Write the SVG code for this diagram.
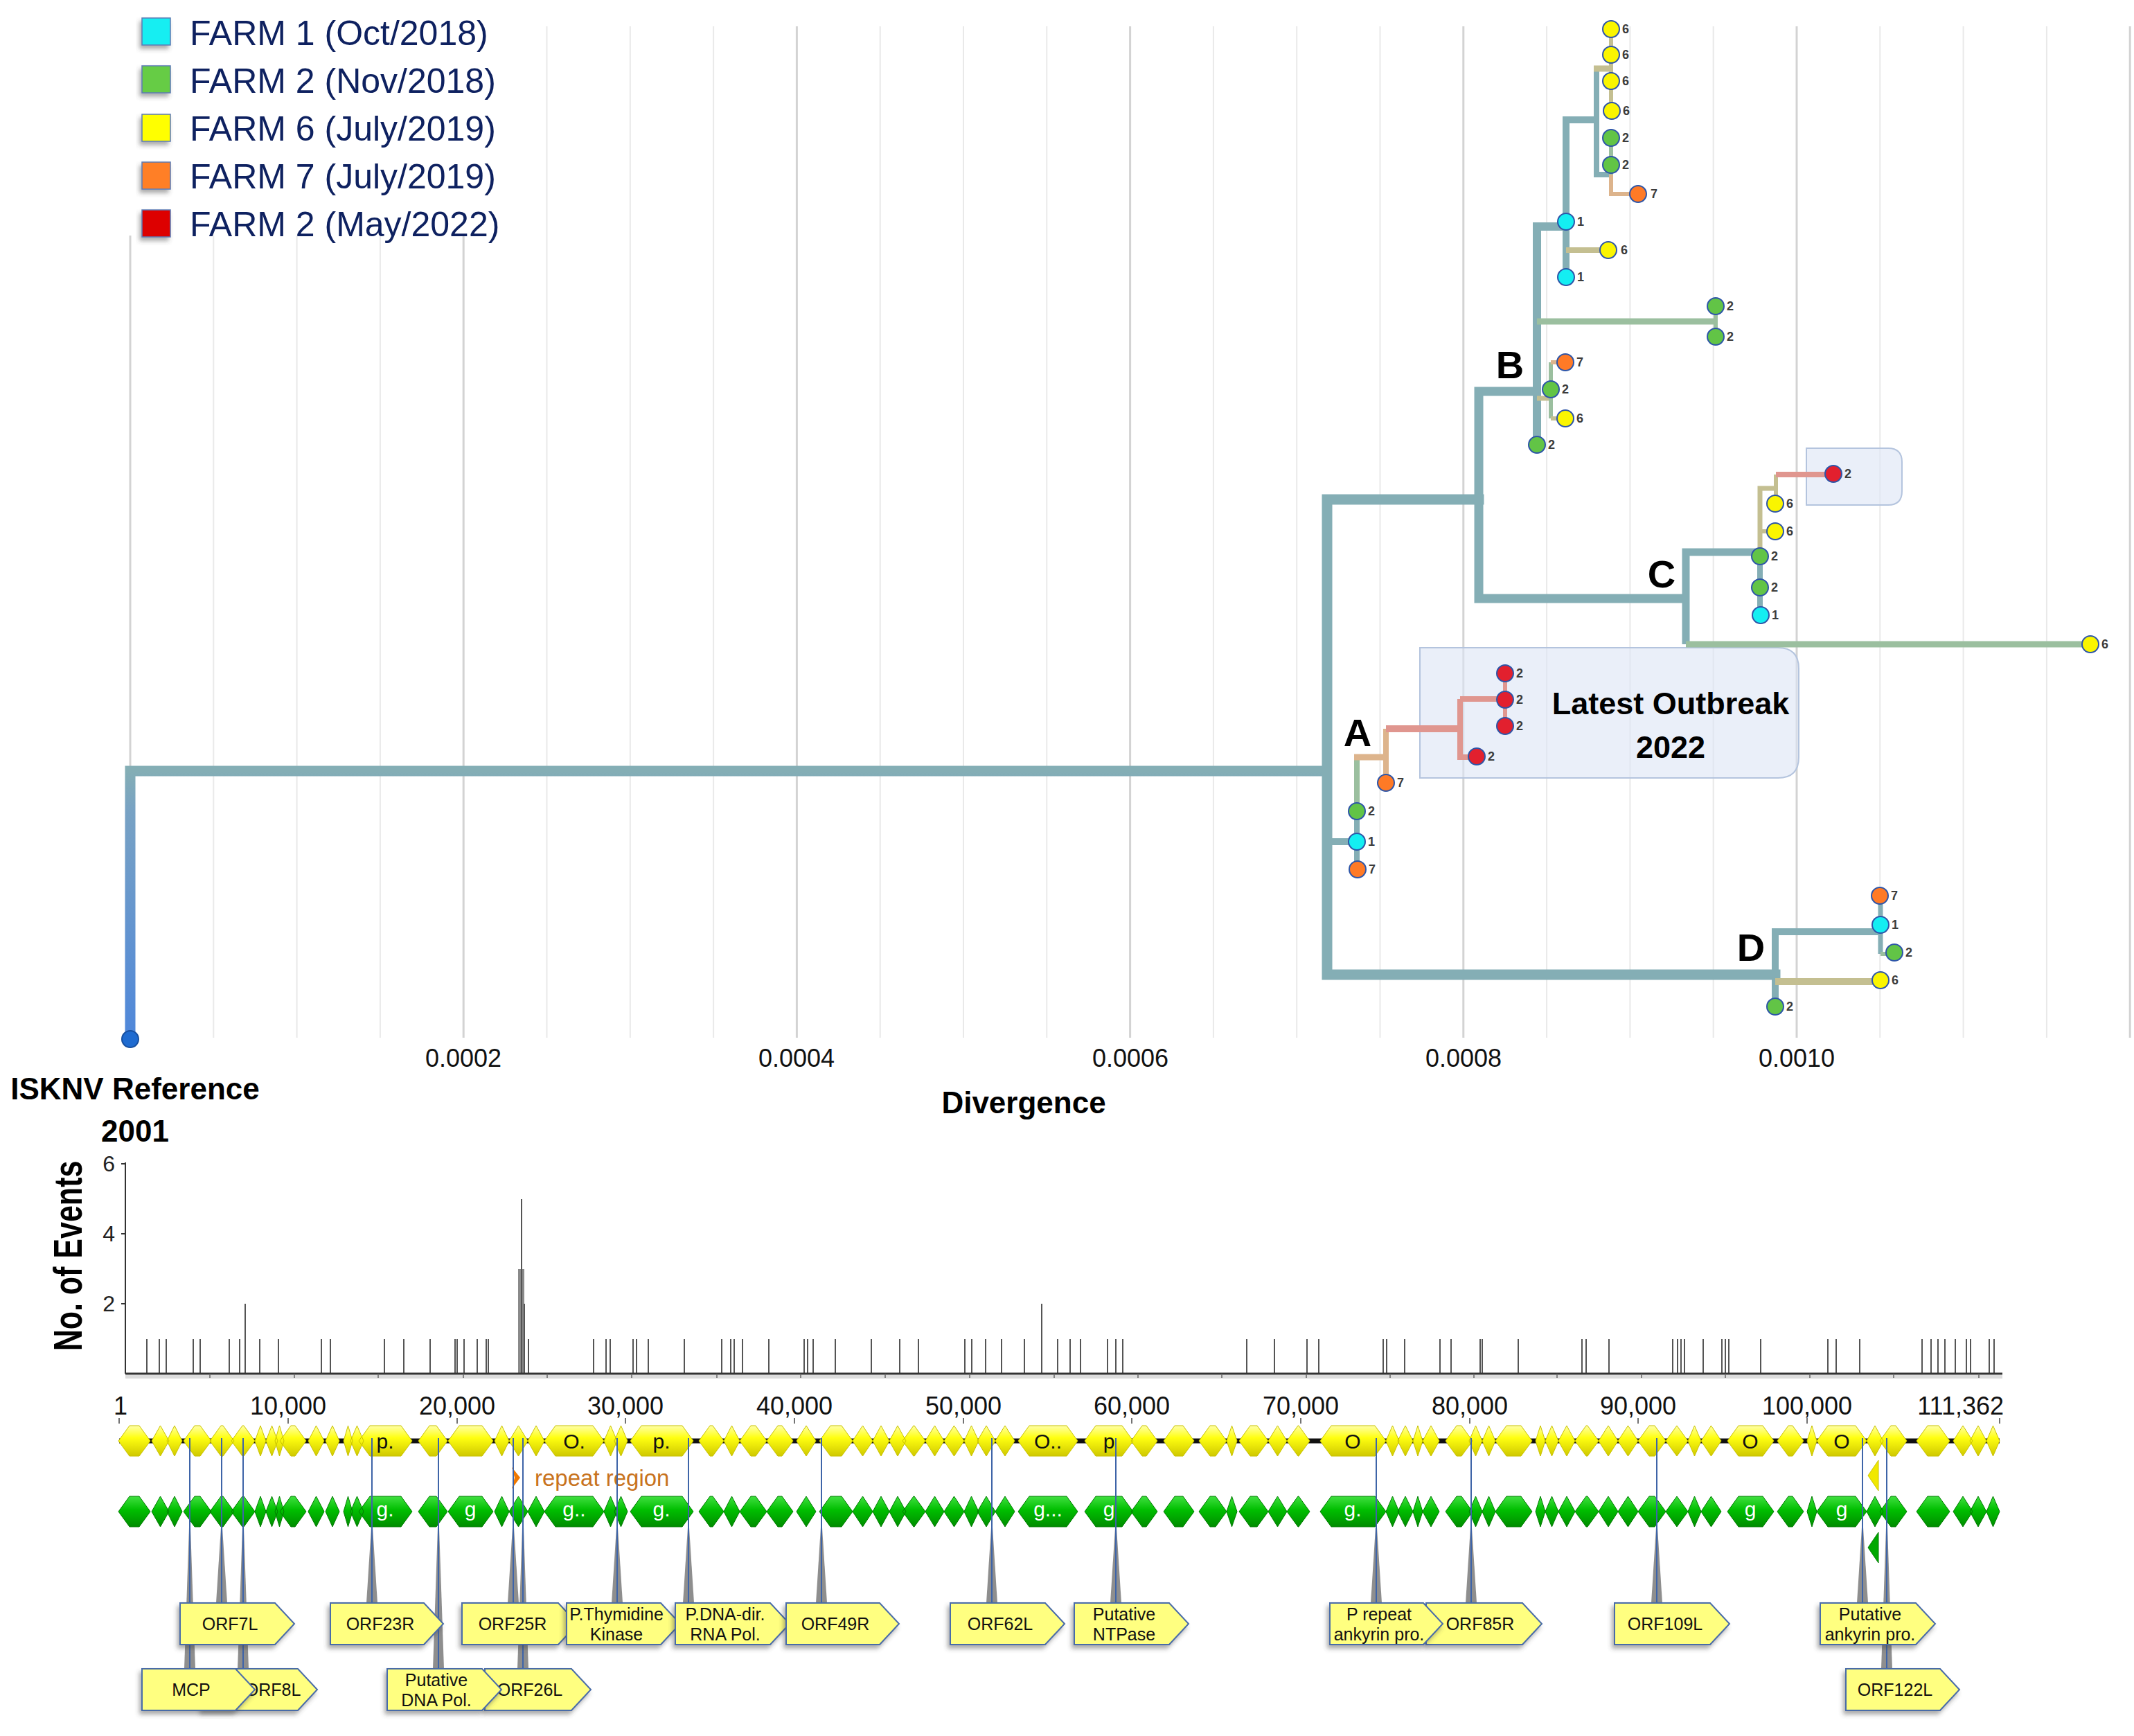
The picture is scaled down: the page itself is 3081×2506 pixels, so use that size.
<svg xmlns="http://www.w3.org/2000/svg" width="3081" height="2506" viewBox="0 0 3081 2506">
<defs>
<style>
text{font-family:'Liberation Sans',Arial,sans-serif}
.nar{font-family:'Liberation Sans Narrow','Liberation Sans',Arial,sans-serif}
.gl{stroke:#E9E9E9;stroke-width:2}
.gm{stroke:#D3D3D3;stroke-width:3}
.leg{font-size:50px;fill:#0E2160}
.sq{stroke:#5C7BB5;stroke-width:1.5;filter:url(#sh)}
.cn path{fill:none}
.tl{stroke:#84AEB5}
.ty{stroke:#C4BF91}
.to{stroke:#DDB48C}
.tg{stroke:#9BBF9F}
.tr{stroke:#E0968F}
.node circle{stroke:#2D55A8;stroke-width:2}
.node text{font-size:18px;font-weight:bold;fill:#3C3C3C}
.cY{fill:#FAF500}.cG{fill:#62C446}.cC{fill:#14EEF2}.cO{fill:#FF7A26}.cR{fill:#E2202E}
.clade{font-size:56px;font-weight:bold;fill:#000;text-anchor:middle}
.ax{font-size:36px;fill:#111;text-anchor:middle}
.ttl{font-size:44px;font-weight:bold;fill:#000;text-anchor:middle}
.hl{fill:#DCE5F5;fill-opacity:0.6;stroke:#B4C4DE;stroke-width:2}
.pins line{stroke:#3E64A8;stroke-width:2}
.pins path{fill:#8E8E8E}
.box polygon{fill:#FFFF80;stroke:#4A6CA8;stroke-width:2;filter:url(#sh)}
.box text{font-size:25px;fill:#111;text-anchor:middle}
.gy{font-size:30px;fill:#111;text-anchor:middle}
.gw{font-size:30px;fill:#FFFFFF;text-anchor:middle}
</style>
<filter id="sh" x="-20%" y="-20%" width="140%" height="170%">
<feDropShadow dx="-3" dy="5" stdDeviation="3" flood-color="#444" flood-opacity="0.45"/>
</filter>
<linearGradient id="rootg" gradientUnits="userSpaceOnUse" x1="0" y1="1113" x2="0" y2="1500">
<stop offset="0" stop-color="#84AEB5"/><stop offset="0.15" stop-color="#78A2C4"/><stop offset="1" stop-color="#4F87DA"/>
</linearGradient>
<linearGradient id="yg" x1="0" y1="0" x2="0" y2="1">
<stop offset="0" stop-color="#FFFFA8"/><stop offset="0.4" stop-color="#FFFF10"/><stop offset="1" stop-color="#CFC800"/>
</linearGradient>
<linearGradient id="gg" x1="0" y1="0" x2="0" y2="1">
<stop offset="0" stop-color="#40E040"/><stop offset="0.45" stop-color="#00BE00"/><stop offset="1" stop-color="#008C00"/>
</linearGradient>
<path id="genes" d="M171,2080l16,-22h14l16,22l-16,22h-14z M219,2080l12.5,-22l12.5,22l-12.5,22z M241,2080l11,-22l11,22l-11,22z M265,2080l16,-22h8l16,22l-16,22h-8z M303,2080l16,-22h3l16,22l-16,22h-3z M334,2080l16,-22h2l16,22l-16,22h-2z M368,2080l8,-22l8,22l-8,22z M384,2080l8.5,-22l8.5,22l-8.5,22z M397,2080l6.5,-22l6.5,22l-6.5,22z M404,2080l16,-22h6l16,22l-16,22h-6z M445,2080l11.5,-22l11.5,22l-11.5,22z M470,2080l10,-22l10,22l-10,22z M496,2080l6.5,-22l6.5,22l-6.5,22z M506,2080l9.5,-22l9.5,22l-9.5,22z M518,2080l16,-22h45l16,22l-16,22h-45z M604,2080l16,-22h10l16,22l-16,22h-10z M647,2080l16,-22h33l16,22l-16,22h-33z M714,2080l10.5,-22l10.5,22l-10.5,22z M735,2080l13.5,-22l13.5,22l-13.5,22z M762,2080l12,-22l12,22l-12,22z M786,2080l16,-22h54l16,22l-16,22h-54z M872,2080l9.5,-22l9.5,22l-9.5,22z M887,2080l9.5,-22l9.5,22l-9.5,22z M910,2080l16,-22h59l16,22l-16,22h-59z M1009,2080l16,-22h4l16,22l-16,22h-4z M1045,2080l11.5,-22l11.5,22l-11.5,22z M1068,2080l16,-22h7l16,22l-16,22h-7z M1107,2080l16,-22h6l16,22l-16,22h-6z M1150,2080l14,-22l14,22l-14,22z M1183,2080l16,-22h16l16,22l-16,22h-16z M1231,2080l14.5,-22l14.5,22l-14.5,22z M1260,2080l12,-22l12,22l-12,22z M1284,2080l12,-22l12,22l-12,22z M1303,2080l16,-22h1l16,22l-16,22h-1z M1336,2080l13.5,-22l13.5,22l-13.5,22z M1363,2080l14.5,-22l14.5,22l-14.5,22z M1392,2080l10.5,-22l10.5,22l-10.5,22z M1411,2080l13,-22l13,22l-13,22z M1437,2080l14,-22l14,22l-14,22z M1470,2080l16,-22h54l16,22l-16,22h-54z M1566,2080l16,-22h38l16,22l-16,22h-38z M1633,2080l16,-22h6l16,22l-16,22h-6z M1680,2080l16,-22h12l16,22l-16,22h-12z M1731,2080l16,-22h8l16,22l-16,22h-8z M1771,2080l7.5,-22l7.5,22l-7.5,22z M1789,2080l16,-22h10l16,22l-16,22h-10z M1831,2080l13.5,-22l13.5,22l-13.5,22z M1858,2080l16,-22h1l16,22l-16,22h-1z M1906,2080l16,-22h63l16,22l-16,22h-63z M2001,2080l9.5,-22l9.5,22l-9.5,22z M2018,2080l11,-22l11,22l-11,22z M2040,2080l7,-22l7,22l-7,22z M2054,2080l12,-22l12,22l-12,22z M2087,2080l16,-22h7l16,22l-16,22h-7z M2121,2080l9.5,-22l9.5,22l-9.5,22z M2140,2080l9.5,-22l9.5,22l-9.5,22z M2159,2080l16,-22h21l16,22l-16,22h-21z M2217,2080l7,-22l7,22l-7,22z M2231,2080l9.5,-22l9.5,22l-9.5,22z M2250,2080l12,-22l12,22l-12,22z M2274,2080l16,-22h2l16,22l-16,22h-2z M2308,2080l14,-22l14,22l-14,22z M2336,2080l14.5,-22l14.5,22l-14.5,22z M2365,2080l16,-22h8l16,22l-16,22h-8z M2405,2080l16,-22l16,22l-16,22z M2437,2080l9.5,-22l9.5,22l-9.5,22z M2456,2080l14.5,-22l14.5,22l-14.5,22z M2494,2080l16,-22h35l16,22l-16,22h-35z M2566,2080l16,-22h6l16,22l-16,22h-6z M2609,2080l7,-22l7,22l-7,22z M2623,2080l16,-22h40l16,22l-16,22h-40z M2695,2080l12,-22l12,22l-12,22z M2714,2080l16,-22h7l16,22l-16,22h-7z M2767,2080l16,-22h16l16,22l-16,22h-16z M2820,2080l14,-22l14,22l-14,22z M2844,2080l12,-22l12,22l-12,22z M2868,2080l9.5,-22l9.5,22l-9.5,22z"/>
</defs>

<rect x="0" y="0" width="3081" height="2506" fill="#FFFFFF"/>

<!-- grid -->
<g id="grid">
<line class="gm" x1="188" y1="340" x2="188" y2="1498"/>
<line class="gl" x1="308.3" y1="340" x2="308.3" y2="1498"/>
<line class="gl" x1="428.6" y1="340" x2="428.6" y2="1498"/>
<line class="gl" x1="548.9" y1="340" x2="548.9" y2="1498"/>
<line class="gm" x1="669.2" y1="340" x2="669.2" y2="1498"/>
<line class="gl" x1="789.5" y1="38" x2="789.5" y2="1498"/>
<line class="gl" x1="909.8" y1="38" x2="909.8" y2="1498"/>
<line class="gl" x1="1030.1" y1="38" x2="1030.1" y2="1498"/>
<line class="gm" x1="1150.4" y1="38" x2="1150.4" y2="1498"/>
<line class="gl" x1="1270.7" y1="38" x2="1270.7" y2="1498"/>
<line class="gl" x1="1391" y1="38" x2="1391" y2="1498"/>
<line class="gl" x1="1511.3" y1="38" x2="1511.3" y2="1498"/>
<line class="gm" x1="1631.6" y1="38" x2="1631.6" y2="1498"/>
<line class="gl" x1="1751.9" y1="38" x2="1751.9" y2="1498"/>
<line class="gl" x1="1872.2" y1="38" x2="1872.2" y2="1498"/>
<line class="gl" x1="1992.5" y1="38" x2="1992.5" y2="1498"/>
<line class="gm" x1="2112.8" y1="38" x2="2112.8" y2="1498"/>
<line class="gl" x1="2233.1" y1="38" x2="2233.1" y2="1498"/>
<line class="gl" x1="2353.4" y1="38" x2="2353.4" y2="1498"/>
<line class="gl" x1="2473.7" y1="38" x2="2473.7" y2="1498"/>
<line class="gm" x1="2594" y1="38" x2="2594" y2="1498"/>
<line class="gl" x1="2714.3" y1="38" x2="2714.3" y2="1498"/>
<line class="gl" x1="2834.6" y1="38" x2="2834.6" y2="1498"/>
<line class="gl" x1="2954.9" y1="38" x2="2954.9" y2="1498"/>
<line class="gm" x1="3075.2" y1="38" x2="3075.2" y2="1498"/>
</g>

<!-- legend -->
<g id="legend">
<rect class="sq" x="205" y="26" width="41" height="39" fill="#14EEF2"/>
<rect class="sq" x="205" y="95" width="41" height="39" fill="#66CC44"/>
<rect class="sq" x="205" y="165" width="41" height="39" fill="#FFFF00"/>
<rect class="sq" x="205" y="234" width="41" height="39" fill="#FF7F27"/>
<rect class="sq" x="205" y="303" width="41" height="39" fill="#DD0000"/>
<text class="leg" x="274" y="65">FARM 1 (Oct/2018)</text>
<text class="leg" x="274" y="134">FARM 2 (Nov/2018)</text>
<text class="leg" x="274" y="203">FARM 6 (July/2019)</text>
<text class="leg" x="274" y="272">FARM 7 (July/2019)</text>
<text class="leg" x="274" y="341">FARM 2 (May/2022)</text>
</g>

<!-- highlight boxes -->
<g id="highlight-2022">
<path class="hl" d="M2050,935 H2567 Q2597,935 2597,965 V1093 Q2597,1123 2567,1123 H2050 Z"/>
<text x="2412" y="1031" font-size="45" font-weight="bold" text-anchor="middle" fill="#000">Latest Outbreak</text>
<text x="2412" y="1094" font-size="45" font-weight="bold" text-anchor="middle" fill="#000">2022</text>
</g>
<g id="highlight-c">
<path class="hl" d="M2608,647 H2726 Q2746,647 2746,667 V709 Q2746,729 2726,729 H2608 Z"/>
</g>

<!-- connectors -->
<g id="connectors" class="cn" stroke-linejoin="miter">
<path d="M188,1500 V1113 H1916" stroke="url(#rootg)" stroke-width="15"/>
<path class="tl" d="M2135,721 H1916 V1407 H2563" stroke-width="15" stroke-linecap="square"/>
<path class="tl" d="M2219,565 H2135 V864 H2434" stroke-width="13"/>
<path class="tl" d="M1916,1215 H1959" stroke-width="10"/>
<path class="tl" d="M2261,327 H2219 V642" stroke-width="12"/>
<path class="tl" d="M2305,173 H2261 V400" stroke-width="10"/>
<path class="tl" d="M2305,99 V252 H2326" stroke-width="8"/>
<path class="ty" d="M2301,99 H2326" stroke-width="9"/>
<path class="ty" d="M2326,42 V160" stroke-width="6"/>
<path class="tg" d="M2326,199 V252" stroke-width="6"/>
<path class="to" d="M2326,252 V280 H2365" stroke-width="6"/>
<path class="ty" d="M2261,361 H2322" stroke-width="8"/>
<path class="tg" d="M2219,464 H2477" stroke-width="9"/>
<path class="tg" d="M2477,442 V486" stroke-width="6"/>
<path class="ty" d="M2219,575 H2239" stroke-width="7"/>
<path class="tg" d="M2239,523 V604" stroke-width="6"/>
<path class="to" d="M2239,523 H2260" stroke-width="6"/>
<path class="ty" d="M2239,604 H2260" stroke-width="6"/>
<path class="tl" d="M2541,797 H2434 V930" stroke-width="11"/>
<path class="tg" d="M2434,930 H3018" stroke-width="9"/>
<path class="tl" d="M2541,888 V797" stroke-width="8"/>
<path class="ty" d="M2541,797 V705 H2564" stroke-width="7"/>
<path class="ty" d="M2564,727 V685" stroke-width="6"/>
<path class="tr" d="M2564,685 H2647" stroke-width="8"/>
<path class="ty" d="M2541,767 H2563" stroke-width="6"/>
<path class="tl" d="M1959,1255 V1171" stroke-width="8"/>
<path class="tg" d="M1959,1171 V1093" stroke-width="8"/>
<path class="to" d="M1955,1093 H2001" stroke-width="9"/>
<path class="to" d="M2001,1130 V1052" stroke-width="8"/>
<path class="tr" d="M2001,1052 H2108" stroke-width="10"/>
<path class="tr" d="M2108,1009 V1093 H2132" stroke-width="8"/>
<path class="tr" d="M2108,1009 H2173" stroke-width="8"/>
<path class="tr" d="M2173,972 V1048" stroke-width="6"/>
<path class="tl" d="M2715,1345 H2563 V1453" stroke-width="10"/>
<path class="tl" d="M2715,1293 V1377" stroke-width="7"/>
<path class="tg" d="M2715,1377 H2735" stroke-width="6"/>
<path class="ty" d="M2563,1417 H2715" stroke-width="10"/>
</g>

<!-- root node -->
<g id="root-node">
<circle cx="188" cy="1500" r="12" fill="#1F6BD0" stroke="#1850A0" stroke-width="2"/>
</g>

<!-- tree nodes -->
<g id="n1" class="node"><circle class="cY" cx="2326" cy="42" r="12"/><text x="2342" y="48">6</text></g>
<g id="n2" class="node"><circle class="cY" cx="2326" cy="79" r="12"/><text x="2342" y="85">6</text></g>
<g id="n3" class="node"><circle class="cY" cx="2326" cy="117" r="12"/><text x="2342" y="123">6</text></g>
<g id="n4" class="node"><circle class="cY" cx="2327" cy="160" r="12"/><text x="2343" y="166">6</text></g>
<g id="n5" class="node"><circle class="cG" cx="2326" cy="199" r="12"/><text x="2342" y="205">2</text></g>
<g id="n6" class="node"><circle class="cG" cx="2326" cy="238" r="12"/><text x="2342" y="244">2</text></g>
<g id="n7" class="node"><circle class="cO" cx="2365" cy="280" r="12"/><text x="2383" y="286">7</text></g>
<g id="n8" class="node"><circle class="cC" cx="2261" cy="320" r="12"/><text x="2277" y="326">1</text></g>
<g id="n9" class="node"><circle class="cY" cx="2322" cy="361" r="12"/><text x="2340" y="367">6</text></g>
<g id="n10" class="node"><circle class="cC" cx="2261" cy="400" r="12"/><text x="2277" y="406">1</text></g>
<g id="n11" class="node"><circle class="cG" cx="2477" cy="442" r="12"/><text x="2493" y="448">2</text></g>
<g id="n12" class="node"><circle class="cG" cx="2477" cy="486" r="12"/><text x="2493" y="492">2</text></g>
<g id="n13" class="node"><circle class="cO" cx="2260" cy="523" r="12"/><text x="2276" y="529">7</text></g>
<g id="n14" class="node"><circle class="cG" cx="2239" cy="562" r="12"/><text x="2255" y="568">2</text></g>
<g id="n15" class="node"><circle class="cY" cx="2260" cy="604" r="12"/><text x="2276" y="610">6</text></g>
<g id="n16" class="node"><circle class="cG" cx="2219" cy="642" r="12"/><text x="2235" y="648">2</text></g>
<g id="n17" class="node"><circle class="cR" cx="2647" cy="684" r="12"/><text x="2663" y="690">2</text></g>
<g id="n18" class="node"><circle class="cY" cx="2563" cy="727" r="12"/><text x="2579" y="733">6</text></g>
<g id="n19" class="node"><circle class="cY" cx="2563" cy="767" r="12"/><text x="2579" y="773">6</text></g>
<g id="n20" class="node"><circle class="cG" cx="2541" cy="803" r="12"/><text x="2557" y="809">2</text></g>
<g id="n21" class="node"><circle class="cG" cx="2541" cy="848" r="12"/><text x="2557" y="854">2</text></g>
<g id="n22" class="node"><circle class="cC" cx="2542" cy="888" r="12"/><text x="2558" y="894">1</text></g>
<g id="n23" class="node"><circle class="cY" cx="3018" cy="930" r="12"/><text x="3034" y="936">6</text></g>
<g id="n24" class="node"><circle class="cR" cx="2173" cy="972" r="12"/><text x="2189" y="978">2</text></g>
<g id="n25" class="node"><circle class="cR" cx="2173" cy="1010" r="12"/><text x="2189" y="1016">2</text></g>
<g id="n26" class="node"><circle class="cR" cx="2173" cy="1048" r="12"/><text x="2189" y="1054">2</text></g>
<g id="n27" class="node"><circle class="cR" cx="2132" cy="1092" r="12"/><text x="2148" y="1098">2</text></g>
<g id="n28" class="node"><circle class="cO" cx="2001" cy="1130" r="12"/><text x="2017" y="1136">7</text></g>
<g id="n29" class="node"><circle class="cG" cx="1959" cy="1171" r="12"/><text x="1975" y="1177">2</text></g>
<g id="n30" class="node"><circle class="cC" cx="1959" cy="1215" r="12"/><text x="1975" y="1221">1</text></g>
<g id="n31" class="node"><circle class="cO" cx="1960" cy="1255" r="12"/><text x="1976" y="1261">7</text></g>
<g id="n32" class="node"><circle class="cO" cx="2714" cy="1293" r="12"/><text x="2730" y="1299">7</text></g>
<g id="n33" class="node"><circle class="cC" cx="2715" cy="1335" r="12"/><text x="2731" y="1341">1</text></g>
<g id="n34" class="node"><circle class="cG" cx="2735" cy="1375" r="12"/><text x="2751" y="1381">2</text></g>
<g id="n35" class="node"><circle class="cY" cx="2715" cy="1415" r="12"/><text x="2731" y="1421">6</text></g>
<g id="n36" class="node"><circle class="cG" cx="2563" cy="1453" r="12"/><text x="2579" y="1459">2</text></g>

<!-- clade labels -->
<g id="clade-labels">
<text class="clade" x="1960" y="1077">A</text>
<text class="clade" x="2180" y="546">B</text>
<text class="clade" x="2399" y="848">C</text>
<text class="clade" x="2528" y="1387">D</text>
</g>

<!-- tree axis -->
<g id="tree-axis">
<text class="nar ax" x="669" y="1540">0.0002</text>
<text class="nar ax" x="1150" y="1540">0.0004</text>
<text class="nar ax" x="1632" y="1540">0.0006</text>
<text class="nar ax" x="2113" y="1540">0.0008</text>
<text class="nar ax" x="2594" y="1540">0.0010</text>
<text class="ttl" x="1478" y="1607">Divergence</text>
<text class="ttl" x="195" y="1587">ISKNV Reference</text>
<text class="ttl" x="195" y="1648">2001</text>
</g>

<!-- histogram -->
<g id="histogram">
<text transform="translate(118,1813) rotate(-90) scale(1,1.35)" font-size="43" font-weight="bold" text-anchor="middle" fill="#000">No. of Events</text>
<line x1="181" y1="1678" x2="181" y2="1983" stroke="#333" stroke-width="2"/>
<path d="M175,1680H181M175,1781H181M175,1882H181" stroke="#333" stroke-width="2"/>
<text class="nar" x="166" y="1691" font-size="32" text-anchor="end" fill="#222">6</text>
<text class="nar" x="166" y="1792" font-size="32" text-anchor="end" fill="#222">4</text>
<text class="nar" x="166" y="1893" font-size="32" text-anchor="end" fill="#222">2</text>
<rect x="748" y="1832" width="9" height="151" fill="#8A8A8A"/>
<path fill="none" stroke="#555" stroke-width="2" d="M212,1983V1933M230,1983V1933M240,1983V1933M279,1983V1933M289,1983V1933M331,1983V1933M346,1983V1933M375,1983V1933M402,1983V1933M464,1983V1933M477,1983V1933M555,1983V1933M583,1983V1933M621,1983V1933M657,1983V1933M660,1983V1933M670,1983V1933M689,1983V1933M702,1983V1933M705,1983V1933M763,1983V1933M857,1983V1933M875,1983V1933M881,1983V1933M914,1983V1933M919,1983V1933M936,1983V1933M988,1983V1933M1042,1983V1933M1055,1983V1933M1060,1983V1933M1072,1983V1933M1110,1983V1933M1161,1983V1933M1166,1983V1933M1174,1983V1933M1206,1983V1933M1258,1983V1933M1299,1983V1933M1326,1983V1933M1393,1983V1933M1403,1983V1933M1423,1983V1933M1446,1983V1933M1479,1983V1933M1527,1983V1933M1545,1983V1933M1560,1983V1933M1599,1983V1933M1611,1983V1933M1621,1983V1933M1800,1983V1933M1840,1983V1933M1887,1983V1933M1904,1983V1933M1997,1983V1933M2002,1983V1933M2028,1983V1933M2079,1983V1933M2095,1983V1933M2137,1983V1933M2140,1983V1933M2192,1983V1933M2284,1983V1933M2290,1983V1933M2323,1983V1933M2415,1983V1933M2422,1983V1933M2427,1983V1933M2432,1983V1933M2459,1983V1933M2486,1983V1933M2491,1983V1933M2496,1983V1933M2542,1983V1933M2639,1983V1933M2651,1983V1933M2685,1983V1933M2775,1983V1933M2788,1983V1933M2798,1983V1933M2808,1983V1933M2823,1983V1933M2839,1983V1933M2845,1983V1933M2872,1983V1933M2879,1983V1933 M354,1983V1882M1504,1983V1882M757,1983V1882 M753,1983V1731"/>
<rect x="181" y="1985" width="2710" height="5" fill="#DDDDDD"/>
<line x1="181" y1="1983" x2="2891" y2="1983" stroke="#333" stroke-width="3"/>
<path stroke="#666" stroke-width="1.5" d="M303,1983v6M425,1983v6M546,1983v6M669,1983v6M790,1983v6M912,1983v6M1035,1983v6M1156,1983v6M1278,1983v6M1400,1983v6M1522,1983v6M1643,1983v6M1764,1983v6M1886,1983v6M2007,1983v6M2128,1983v6M2248,1983v6M2370,1983v6M2491,1983v6M2613,1983v6M2734,1983v6M2857,1983v6"/>
</g>

<!-- genome ruler -->
<g id="ruler">
<text class="nar ax" x="174" y="2042">1</text>
<text class="nar ax" x="416" y="2042">10,000</text>
<text class="nar ax" x="660" y="2042">20,000</text>
<text class="nar ax" x="903" y="2042">30,000</text>
<text class="nar ax" x="1147" y="2042">40,000</text>
<text class="nar ax" x="1391" y="2042">50,000</text>
<text class="nar ax" x="1634" y="2042">60,000</text>
<text class="nar ax" x="1878" y="2042">70,000</text>
<text class="nar ax" x="2122" y="2042">80,000</text>
<text class="nar ax" x="2365" y="2042">90,000</text>
<text class="nar ax" x="2609" y="2042">100,000</text>
<text class="nar" x="2893" y="2042" font-size="36" text-anchor="end" fill="#111">111,362</text>
<path stroke="#444" stroke-width="1.5" d="M172,2047v8M416,2047v8M660,2047v8M903,2047v8M1147,2047v8M1391,2047v8M1634,2047v8M1878,2047v8M2122,2047v8M2365,2047v8M2609,2047v8M2887,2047v8"/>
</g>

<!-- gene tracks -->
<g id="gene-tracks">
<line x1="172" y1="2080" x2="2887" y2="2080" stroke="#111" stroke-width="7"/>
<use href="#genes" fill="url(#yg)" stroke="#C9C200" stroke-width="1"/>
<use href="#genes" y="102" fill="url(#gg)" stroke="#007C00" stroke-width="1"/>
<text class="nar gy" x="556" y="2091">p.</text>
<text class="nar gy" x="829" y="2091">O.</text>
<text class="nar gy" x="955" y="2091">p.</text>
<text class="nar gy" x="1513" y="2091">O..</text>
<text class="nar gy" x="1601" y="2091">p</text>
<text class="nar gy" x="1953" y="2091">O</text>
<text class="nar gy" x="2527" y="2091">O</text>
<text class="nar gy" x="2659" y="2091">O</text>
<text class="nar gw" x="556" y="2189">g.</text>
<text class="nar gw" x="679" y="2189">g</text>
<text class="nar gw" x="829" y="2189">g..</text>
<text class="nar gw" x="955" y="2189">g.</text>
<text class="nar gw" x="1513" y="2189">g...</text>
<text class="nar gw" x="1601" y="2189">g</text>
<text class="nar gw" x="1953" y="2189">g.</text>
<text class="nar gw" x="2527" y="2189">g</text>
<text class="nar gw" x="2659" y="2189">g</text>
<polygon points="2697,2130 2712,2108 2712,2152" fill="#F0E800" stroke="#C9C200"/>
<polygon points="2697,2234 2712,2212 2712,2256" fill="#00A800" stroke="#007C00"/>
<polygon points="739,2118 751,2133 739,2149 743,2133" fill="#F07800"/>
<text class="nar" x="772" y="2145" font-size="33" fill="#C8731E">repeat region</text>
</g>

<!-- callout pins -->
<g id="pins" class="pins">
<path d="M273,2205L275,2205L282,2409L266,2409Z"/>
<path d="M319,2205L321,2205L328,2314L312,2314Z"/>
<path d="M350,2205L352,2205L359,2409L343,2409Z"/>
<path d="M536,2205L538,2205L545,2314L529,2314Z"/>
<path d="M632,2205L634,2205L641,2409L625,2409Z"/>
<path d="M740,2205L742,2205L749,2314L733,2314Z"/>
<path d="M754,2205L756,2205L763,2409L747,2409Z"/>
<path d="M890,2205L892,2205L899,2314L883,2314Z"/>
<path d="M993,2205L995,2205L1002,2314L986,2314Z"/>
<path d="M1185,2205L1187,2205L1194,2314L1178,2314Z"/>
<path d="M1431,2205L1433,2205L1440,2314L1424,2314Z"/>
<path d="M1610,2205L1612,2205L1619,2314L1603,2314Z"/>
<path d="M1986,2205L1988,2205L1995,2314L1979,2314Z"/>
<path d="M2123,2205L2125,2205L2132,2314L2116,2314Z"/>
<path d="M2391,2205L2393,2205L2400,2314L2384,2314Z"/>
<path d="M2688,2205L2690,2205L2697,2314L2681,2314Z"/>
<path d="M2723,2205L2725,2205L2732,2409L2716,2409Z"/>
<line x1="274" y1="2076" x2="274" y2="2409"/>
<line x1="320" y1="2076" x2="320" y2="2314"/>
<line x1="351" y1="2076" x2="351" y2="2409"/>
<line x1="537" y1="2076" x2="537" y2="2314"/>
<line x1="633" y1="2076" x2="633" y2="2409"/>
<line x1="741" y1="2076" x2="741" y2="2314"/>
<line x1="755" y1="2076" x2="755" y2="2409"/>
<line x1="891" y1="2076" x2="891" y2="2314"/>
<line x1="994" y1="2076" x2="994" y2="2314"/>
<line x1="1186" y1="2076" x2="1186" y2="2314"/>
<line x1="1432" y1="2076" x2="1432" y2="2314"/>
<line x1="1611" y1="2076" x2="1611" y2="2314"/>
<line x1="1987" y1="2076" x2="1987" y2="2314"/>
<line x1="2124" y1="2076" x2="2124" y2="2314"/>
<line x1="2392" y1="2076" x2="2392" y2="2314"/>
<line x1="2689" y1="2076" x2="2689" y2="2314"/>
<line x1="2724" y1="2076" x2="2724" y2="2409"/>
</g>

<!-- callout boxes -->
<g id="b-orf7l" class="box"><polygon points="260,2314 397,2314 425,2344 397,2374 260,2374"/><text class="nar" x="332" y="2353">ORF7L</text></g>
<g id="b-orf23r" class="box"><polygon points="477,2314 612,2314 640,2344 612,2374 477,2374"/><text class="nar" x="549" y="2353">ORF23R</text></g>
<g id="b-orf25r" class="box"><polygon points="667,2314 806,2314 834,2344 806,2374 667,2374"/><text class="nar" x="740" y="2353">ORF25R</text></g>
<g id="b-thymidine" class="box"><polygon points="818,2314 954,2314 982,2344 954,2374 818,2374"/><text class="nar" x="890" y="2339">P.Thymidine</text><text class="nar" x="890" y="2368">Kinase</text></g>
<g id="b-rnapol" class="box"><polygon points="975,2314 1112,2314 1140,2344 1112,2374 975,2374"/><text class="nar" x="1047" y="2339">P.DNA-dir.</text><text class="nar" x="1047" y="2368">RNA Pol.</text></g>
<g id="b-orf49r" class="box"><polygon points="1135,2314 1270,2314 1298,2344 1270,2374 1135,2374"/><text class="nar" x="1206" y="2353">ORF49R</text></g>
<g id="b-orf62l" class="box"><polygon points="1372,2314 1509,2314 1537,2344 1509,2374 1372,2374"/><text class="nar" x="1444" y="2353">ORF62L</text></g>
<g id="b-ntpase" class="box"><polygon points="1551,2314 1688,2314 1716,2344 1688,2374 1551,2374"/><text class="nar" x="1623" y="2339">Putative</text><text class="nar" x="1623" y="2368">NTPase</text></g>
<g id="b-orf85r" class="box"><polygon points="2059,2314 2198,2314 2226,2344 2198,2374 2059,2374"/><text class="nar" x="2137" y="2353">ORF85R</text></g>
<g id="b-prepeat" class="box"><polygon points="1920,2314 2055,2314 2083,2344 2055,2374 1920,2374"/><text class="nar" x="1991" y="2339">P repeat</text><text class="nar" x="1991" y="2368">ankyrin pro.</text></g>
<g id="b-orf109l" class="box"><polygon points="2331,2314 2469,2314 2497,2344 2469,2374 2331,2374"/><text class="nar" x="2404" y="2353">ORF109L</text></g>
<g id="b-ankyrin" class="box"><polygon points="2628,2314 2766,2314 2794,2344 2766,2374 2628,2374"/><text class="nar" x="2700" y="2339">Putative</text><text class="nar" x="2700" y="2368">ankyrin pro.</text></g>
<g id="b-orf8l" class="box"><polygon points="292,2409 430,2409 458,2439 430,2469 292,2469"/><text class="nar" x="394" y="2448">ORF8L</text></g>
<g id="b-mcp" class="box"><polygon points="205,2409 340,2409 368,2439 340,2469 205,2469"/><text class="nar" x="276" y="2448">MCP</text></g>
<g id="b-orf26l" class="box"><polygon points="700,2409 825,2409 853,2439 825,2469 700,2469"/><text class="nar" x="765" y="2448">ORF26L</text></g>
<g id="b-dnapol" class="box"><polygon points="559,2409 696,2409 724,2439 696,2469 559,2469"/><text class="nar" x="630" y="2434">Putative</text><text class="nar" x="630" y="2463">DNA Pol.</text></g>
<g id="b-orf122l" class="box"><polygon points="2665,2409 2801,2409 2829,2439 2801,2469 2665,2469"/><text class="nar" x="2736" y="2448">ORF122L</text></g>
</svg>
